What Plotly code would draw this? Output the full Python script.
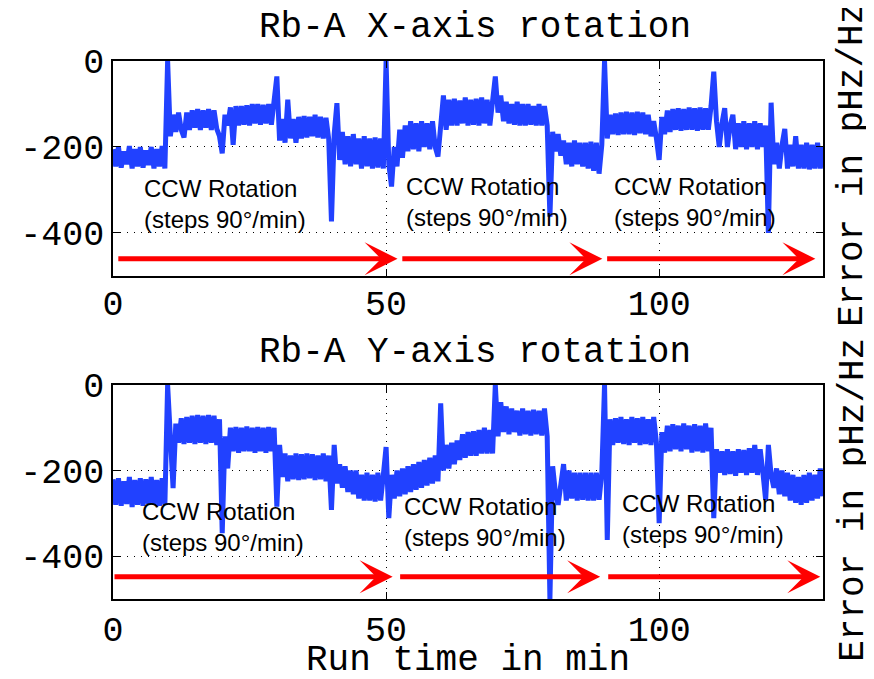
import plotly.graph_objects as go

# ---------------- data ----------------
sample_step_min = 0.5  # one reading every half minute, 0 .. 130 min

# Rb-A X-axis rotation, error in pHz/Hz
x_rotation_error = [
    -205, -245, -200, -248, -210, -240, -198, -250, -205, -245, -200, -248, -208, -242, -200, -250, -205, -245, -198, -250,
    0, -175, -125, -165, -120, -160, -178, -120, -160, -115, -155, -112, -160, -115, -155, -112, -160, -115, -158, -175,
    -215, -125, -150, -108, -195, -105, -150, -105, -148, -103, -150, -100, -145, -100, -148, -102, -145, -100, -148, -100,
    -36, -185, -135, -190, -90, -180, -135, -190, -130, -180, -128, -178, -130, -175, -125, -178, -130, -180, -132, -182,
    -373, -170, -98, -230, -165, -240, -175, -245, -170, -240, -180, -250, -175, -245, -180, -250, -178, -248, -180, -250,
    0, -240, -292, -200, -245, -160, -225, -150, -210, -140, -205, -145, -210, -140, -200, -145, -205, -140, -200, -222,
    -150, -80, -160, -90, -150, -88, -150, -92, -145, -85, -150, -90, -148, -88, -150, -85, -145, -90, -150, -88,
    -36, -120, -80, -140, -95, -145, -100, -148, -95, -150, -100, -150, -100, -148, -105, -150, -100, -150, -105, -150,
    -362, -165, -210, -170, -220, -185, -240, -190, -245, -185, -240, -190, -245, -190, -250, -188, -255, -190, -262, -195,
    0, -180, -125, -170, -122, -172, -120, -170, -118, -170, -120, -172, -118, -168, -120, -170, -125, -175, -140, -180,
    -230, -130, -170, -115, -165, -112, -160, -110, -162, -112, -160, -108, -160, -110, -162, -108, -160, -110, -160, -105,
    -25, -140, -200, -145, -110, -200, -150, -125, -205, -145, -200, -140, -205, -145, -200, -140, -205, -145, -200, -150,
    -400, -97, -240, -190, -250, -195, -158, -250, -195, -245, -175, -250, -195, -250, -190, -252, -195, -250, -190, -250,
    -200,
]

# Rb-A Y-axis rotation, error in pHz/Hz
y_rotation_error = [
    -220, -280, -218, -282, -225, -278, -215, -285, -222, -280, -218, -282, -220, -278, -215, -280, -222, -282, -218, -280,
    0, -150, -241, -90, -135, -78, -138, -75, -135, -72, -138, -70, -135, -72, -138, -70, -135, -72, -140, -80,
    -346, -120, -195, -100, -155, -98, -158, -100, -155, -97, -155, -100, -158, -98, -155, -100, -158, -98, -155, -100,
    -284, -140, -215, -160, -225, -165, -220, -160, -222, -162, -220, -160, -218, -162, -222, -165, -220, -160, -225, -165,
    -292, -140, -230, -185, -240, -190, -250, -200, -255, -200, -265, -210, -270, -205, -270, -210, -272, -205, -270, -210,
    -145, -311, -210, -265, -200, -260, -195, -255, -190, -250, -185, -245, -180, -240, -175, -235, -170, -230, -165, -225,
    -43, -200, -140, -195, -135, -185, -130, -175, -115, -170, -110, -165, -108, -165, -105, -160, -100, -160, -105, -160,
    0, -120, -40, -110, -50, -115, -55, -110, -60, -118, -55, -115, -60, -118, -58, -115, -60, -118, -55, -120,
    -500, -190, -250, -280, -230, -185, -270, -200, -265, -205, -270, -205, -268, -205, -270, -205, -270, -205, -268, -205,
    0, -362, -80, -140, -78, -135, -75, -138, -80, -140, -75, -135, -78, -140, -75, -138, -80, -140, -75, -135,
    -323, -110, -158, -95, -155, -92, -150, -95, -155, -90, -150, -95, -158, -92, -155, -95, -158, -90, -155, -100,
    -311, -150, -205, -155, -210, -150, -208, -155, -212, -150, -205, -152, -210, -148, -205, -140, -210, -150, -205, -269,
    -140, -210, -240, -195, -255, -200, -260, -205, -270, -210, -275, -215, -280, -210, -275, -205, -270, -210, -265, -195,
    -260,
]

time_min = [i * sample_step_min for i in range(len(x_rotation_error))]

# red "rotation" arrows (start / end in minutes) and their level in pHz/Hz
top_arrow_start = [0.7, 52.7, 90.2]
top_arrow_end = [52.1, 89.6, 128.6]
top_arrow_level = -460
bottom_arrow_start = [0.0, 52.3, 90.4]
bottom_arrow_end = [51.2, 89.2, 129.5]
bottom_arrow_level = -448

# "CCW Rotation" labels: left edge (min) and level (pHz/Hz)
top_label_x = [5.3, 53.3, 91.3]
top_label_y = [-332, -328, -328]
bottom_label_x = [4.9, 53.0, 92.8]
bottom_label_y = [-332, -319, -314]
label_text = "CCW Rotation<br>(steps 90°/min)"

x_tick_vals = [0, 50, 100]
x_tick_text = ["0", "50", "100"]
y_tick_vals = [-400, -200, 0]
y_tick_text = ["-400", "-200", "0"]

titles = ["Rb-A X-axis rotation", "Rb-A Y-axis rotation"]
x_title = "Run time in min"
y_title = "Error in pHz/Hz"

# ---------------- figure ----------------
MONO = "Liberation Mono, Courier New, monospace"
SANS = "Liberation Sans, Arial, sans-serif"
BLUE = "#2141ff"
RED = "#ff0000"

fig = go.Figure()
fig.add_trace(go.Scatter(x=time_min, y=x_rotation_error, mode="lines",
                         line=dict(color=BLUE, width=5), xaxis="x", yaxis="y"))
fig.add_trace(go.Scatter(x=time_min, y=y_rotation_error, mode="lines",
                         line=dict(color=BLUE, width=5), xaxis="x2", yaxis="y2"))

axis_common = dict(
    showline=True, linecolor="black", linewidth=1.5, mirror="ticks",
    ticks="inside", ticklen=7, tickcolor="black", tickwidth=1,
    showgrid=True, gridcolor="black", griddash="1px,6px", gridwidth=1,
    zeroline=False, tickfont=dict(family=MONO, size=35, color="black"),
)

annotations = []
for ax_id, starts, ends, level in (("", top_arrow_start, top_arrow_end, top_arrow_level),
                                    ("2", bottom_arrow_start, bottom_arrow_end, bottom_arrow_level)):
    for s, e in zip(starts, ends):
        annotations.append(dict(
            x=e, y=level, ax=s, ay=level, xref="x" + ax_id, yref="y" + ax_id,
            axref="x" + ax_id, ayref="y" + ax_id, text="", showarrow=True,
            arrowhead=3, arrowsize=1.1, arrowwidth=5, arrowcolor=RED, standoff=0))

for ax_id, xs, ys in (("", top_label_x, top_label_y), ("2", bottom_label_x, bottom_label_y)):
    for lx, ly in zip(xs, ys):
        annotations.append(dict(
            x=lx, y=ly, xref="x" + ax_id, yref="y" + ax_id, text=label_text,
            showarrow=False, xanchor="left", yanchor="middle", align="left",
            font=dict(family=SANS, size=24, color="black")))

# subplot titles
annotations.append(dict(text=titles[0], x=0.51, y=1.0623, xref="paper", yref="paper",
                        showarrow=False, xanchor="center", yanchor="middle",
                        font=dict(family=MONO, size=36, color="black")))
annotations.append(dict(text=titles[1], x=0.51, y=0.4591, xref="paper", yref="paper",
                        showarrow=False, xanchor="center", yanchor="middle",
                        font=dict(family=MONO, size=36, color="black")))
# x-axis title
annotations.append(dict(text=x_title, x=0.5, y=-0.1152, xref="paper", yref="paper",
                        showarrow=False, xanchor="center", yanchor="middle",
                        font=dict(family=MONO, size=36, color="black")))
# right-hand y labels
for yc in (0.8067, 0.184):
    annotations.append(dict(text=y_title, x=1.042, y=yc, xref="paper", yref="paper",
                            showarrow=False, xanchor="center", yanchor="middle",
                            textangle=-90, font=dict(family=MONO, size=36, color="black")))

# the page adds an 8 px body margin, so the figure is drawn 8 px smaller and offset
fig.update_layout(
    width=866, height=671,
    margin=dict(l=100, r=51, t=53, b=80),
    paper_bgcolor="white", plot_bgcolor="white",
    showlegend=False,
    xaxis=dict(domain=[0, 1], anchor="y", range=[0, 130], ticklabelstandoff=-5,
               tickvals=x_tick_vals, ticktext=x_tick_text, **axis_common),
    yaxis=dict(domain=[0.6004, 1], anchor="x", range=[-500, 0],
               tickvals=y_tick_vals, ticktext=y_tick_text, **axis_common),
    xaxis2=dict(domain=[0, 1], anchor="y2", range=[0, 130], ticklabelstandoff=-2,
                tickvals=x_tick_vals, ticktext=x_tick_text, **axis_common),
    yaxis2=dict(domain=[0, 0.3978], anchor="x2", range=[-500, 0],
                tickvals=y_tick_vals, ticktext=y_tick_text, **axis_common),
    annotations=annotations,
)

fig.write_html("out.html")
